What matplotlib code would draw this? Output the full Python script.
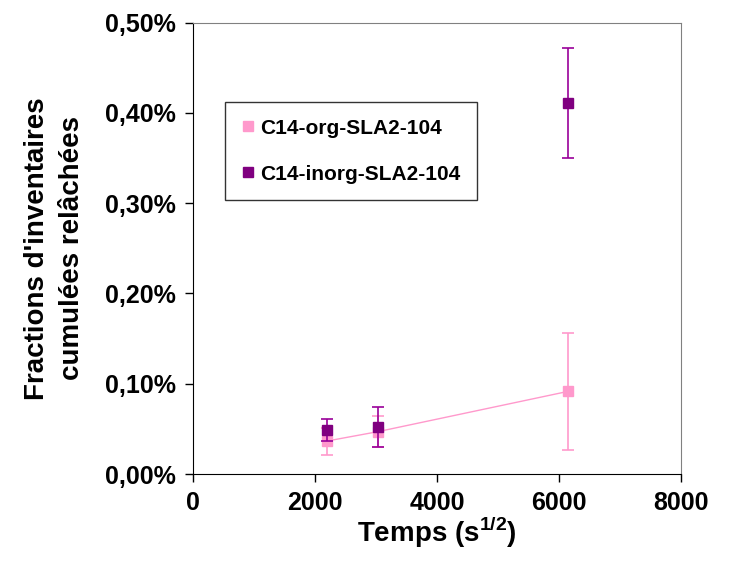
import matplotlib.pyplot as plt
from matplotlib.lines import Line2D
from matplotlib.ticker import FuncFormatter

# donnees (fractions en %)
temps = [2192, 3028, 6153]
org = [0.0365, 0.0469, 0.0916]
org_err = [0.015, 0.017, 0.065]
inorg = [0.049, 0.0524, 0.4108]
inorg_err = [0.012, 0.022, 0.0605]

plt.rcParams['font.family'] = ['Liberation Sans', 'DejaVu Sans']
plt.rcParams['font.weight'] = 'bold'
plt.rcParams['mathtext.fontset'] = 'custom'
plt.rcParams['mathtext.bf'] = 'Liberation Sans:bold'

fig = plt.figure(figsize=(7.32, 5.63), dpi=100)
ax = fig.add_axes([0.2637, 0.158, 0.6666, 0.802])

ax.plot(temps, org, color='#FF99CC', linewidth=1, zorder=2)
ax.errorbar(temps, org, yerr=org_err, fmt='s', color='#FF99CC', ecolor='#FF99CC',
            markersize=7, elinewidth=1.2, capsize=4, capthick=1.2, zorder=3)
ax.errorbar(temps, inorg, yerr=inorg_err, fmt='s', color='#800080', ecolor='#990099',
            markersize=7, elinewidth=1.2, capsize=4, capthick=1.2, zorder=4)

ax.set_xlim(0, 8000)
ax.set_ylim(0, 0.5)
ax.set_xticks([0, 2000, 4000, 6000, 8000])
ax.set_yticks([0, 0.1, 0.2, 0.3, 0.4, 0.5])
ax.yaxis.set_major_formatter(FuncFormatter(lambda v, p: f'{v:.2f}%'.replace('.', ',')))
ax.tick_params(axis='both', labelsize=18, direction='out', length=6, width=1, pad=6)

for s in ['top', 'right']:
    ax.spines[s].set_color('#808080')
for s in ['left', 'bottom']:
    ax.spines[s].set_color('black')

ax.set_xlabel('Temps (s$^{\\mathbf{1/2}}$)', fontsize=20, fontweight='bold', labelpad=0)
ax.set_ylabel("Fractions d'inventaires\ncumulées relâchées", fontsize=20,
              fontweight='bold', labelpad=15, linespacing=1.45)

handles = [Line2D([], [], marker='s', linestyle='none', color='#FF99CC', markersize=7),
           Line2D([], [], marker='s', linestyle='none', color='#800080', markersize=7)]
leg = ax.legend(handles, ['C14-org-SLA2-104', 'C14-inorg-SLA2-104'],
                loc='upper left', bbox_to_anchor=(0.065, 0.824), fontsize=15,
                frameon=True, fancybox=False, handlelength=0.6, handletextpad=0.3,
                labelspacing=1.3, borderpad=0.8, borderaxespad=0)
leg.get_frame().set_edgecolor('black')
leg.get_frame().set_linewidth(1)

fig.savefig('out.png', dpi=100)
